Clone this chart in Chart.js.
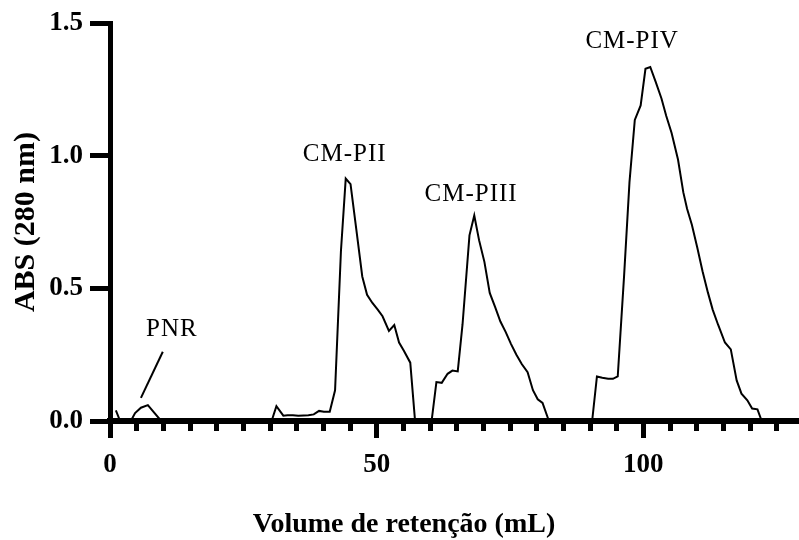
<!DOCTYPE html>
<html>
<head>
<meta charset="utf-8">
<script src="https://cdn.jsdelivr.net/npm/chart.js@4"></script>
<style>
  html, body { margin: 0; padding: 0; background: #fff; }
  #wrap { width: 799px; height: 540px; }
</style>
</head>
<body>
<div id="wrap"><canvas id="chrom"></canvas></div>
<script>
// elution volume (mL) and absorbance
var volume = [1.1, 1.9, 3.9, 4.7, 5.8, 7.1, 9.6,
  30.3, 31.2, 32.5, 33.3, 34.3, 35.3, 36.3, 37.2, 38.2, 39.2, 40.1, 41.2, 42.2, 43.3, 44.2, 45.1, 46.2, 47.3, 48.2, 49.2, 50.2, 51.1, 52.3, 53.3, 54.2, 55.1, 56.3, 57.2,
  60.3, 61.2, 62.2, 63.3, 64.2, 65.2, 66.1, 67.4, 68.3, 69.2, 70.2, 71.2, 72.2, 73.2, 74.2, 75.2, 76.2, 77.2, 78.3, 79.3, 80.2, 81.1, 82.3,
  90.4, 91.3, 92.3, 93.4, 94.3, 95.2, 96.4, 97.4, 98.4, 99.5, 100.4, 101.3, 102.3, 103.4, 104.3, 105.3, 106.5, 107.5, 108.2, 109.1, 110.1, 111.1, 112.1, 113.0, 114.0, 115.3, 116.4, 117.5, 118.4, 119.5, 120.4, 121.4, 122.2];
var abs = [0.04, 0, 0, 0.03, 0.05, 0.06, 0,
  0, 0.056, 0.02, 0.022, 0.022, 0.02, 0.021, 0.022, 0.025, 0.038, 0.035, 0.035, 0.116, 0.64, 0.914, 0.893, 0.72, 0.545, 0.476, 0.445, 0.42, 0.395, 0.34, 0.362, 0.296, 0.265, 0.22, 0,
  0, 0.147, 0.144, 0.178, 0.19, 0.187, 0.364, 0.70, 0.775, 0.682, 0.60, 0.483, 0.43, 0.375, 0.335, 0.29, 0.25, 0.215, 0.184, 0.116, 0.082, 0.068, 0,
  0, 0.168, 0.163, 0.159, 0.159, 0.168, 0.55, 0.90, 1.135, 1.19, 1.328, 1.335, 1.28, 1.216, 1.15, 1.086, 0.986, 0.862, 0.80, 0.74, 0.655, 0.565, 0.485, 0.42, 0.364, 0.296, 0.27, 0.153, 0.103, 0.078, 0.047, 0.044, 0];

var xLabels = [0, 50, 100];

// peak names and where they sit (data units, text centre)
var peakNames = ["PNR", "CM-PII", "CM-PIII", "CM-PIV"];
var peakX = [11.6, 44.0, 67.7, 97.9];
var peakY = [0.351, 1.009, 0.860, 1.438];
var pointerX = [5.8, 9.9];
var pointerY = [0.087, 0.261];

var serif = "'Liberation Serif', 'Times New Roman', serif";
Chart.defaults.font.family = serif;
Chart.defaults.color = "#000";

var peakLabels = {
  id: "peakLabels",
  afterDatasetsDraw: function (chart) {
    var ctx = chart.ctx;
    var sx = chart.scales.x, sy = chart.scales.y;
    ctx.save();
    ctx.fillStyle = "#000";
    ctx.strokeStyle = "#000";
    ctx.font = "25px " + serif;
    ctx.letterSpacing = "1px";
    ctx.textAlign = "center";
    ctx.textBaseline = "alphabetic";
    for (var i = 0; i < peakNames.length; i++) {
      ctx.fillText(peakNames[i], sx.getPixelForValue(peakX[i]), sy.getPixelForValue(peakY[i]) + 8);
    }
    ctx.lineWidth = 2;
    ctx.beginPath();
    ctx.moveTo(sx.getPixelForValue(pointerX[0]), sy.getPixelForValue(pointerY[0]));
    ctx.lineTo(sx.getPixelForValue(pointerX[1]), sy.getPixelForValue(pointerY[1]));
    ctx.stroke();
    ctx.restore();
  }
};

new Chart(document.getElementById("chrom"), {
  type: "line",
  data: {
    datasets: [{
      data: volume.map(function (v, i) { return { x: v, y: abs[i] }; }),
      borderColor: "#000",
      borderWidth: 2,
      pointRadius: 0,
      tension: 0,
      fill: false
    }]
  },
  options: {
    responsive: true,
    maintainAspectRatio: false,
    animation: false,
    devicePixelRatio: 1,
    layout: { padding: { top: 19, left: 10, right: 1, bottom: 0 } },
    plugins: {
      legend: { display: false },
      tooltip: { enabled: false },
      title: {
        display: true,
        position: "bottom",
        text: "Volume de retenção (mL)",
        color: "#000",
        font: { size: 28, weight: "bold", lineHeight: 1 },
        padding: { top: 0, bottom: 1 }
      }
    },
    scales: {
      x: {
        type: "linear",
        min: 0,
        max: 129,
        ticks: {
          stepSize: 5,
          includeBounds: false,
          autoSkip: false,
          maxRotation: 0,
          padding: 11,
          font: { size: 27, weight: "bold" },
          callback: function (v) { return xLabels.indexOf(v) >= 0 ? String(v) : ""; }
        },
        grid: {
          drawOnChartArea: false,
          drawTicks: true,
          tickLength: 17,
          tickWidth: 5,
          tickColor: "#000",
          tickBorderDash: function (c) {
            return (c.tick && xLabels.indexOf(c.tick.value) >= 0) ? [] : [7, 40];
          }
        },
        border: { display: true, width: 6, color: "#000" },
        afterFit: function (s) { s.height = 90; }
      },
      y: {
        min: 0,
        max: 1.5,
        ticks: {
          stepSize: 0.5,
          padding: 7,
          font: { size: 27, weight: "bold" },
          callback: function (v) { return v.toFixed(1); }
        },
        grid: {
          drawOnChartArea: false,
          drawTicks: true,
          tickLength: 20,
          tickWidth: 5,
          tickColor: "#000"
        },
        border: { display: true, width: 5, color: "#000" },
        title: {
          display: true,
          text: "ABS (280 nm)",
          color: "#000",
          font: { size: 30, weight: "bold", lineHeight: 1 },
          padding: { top: 1, bottom: 0 }
        },
        afterFit: function (s) { s.width = 100; }
      }
    }
  },
  plugins: [peakLabels]
});
</script>
</body>
</html>
